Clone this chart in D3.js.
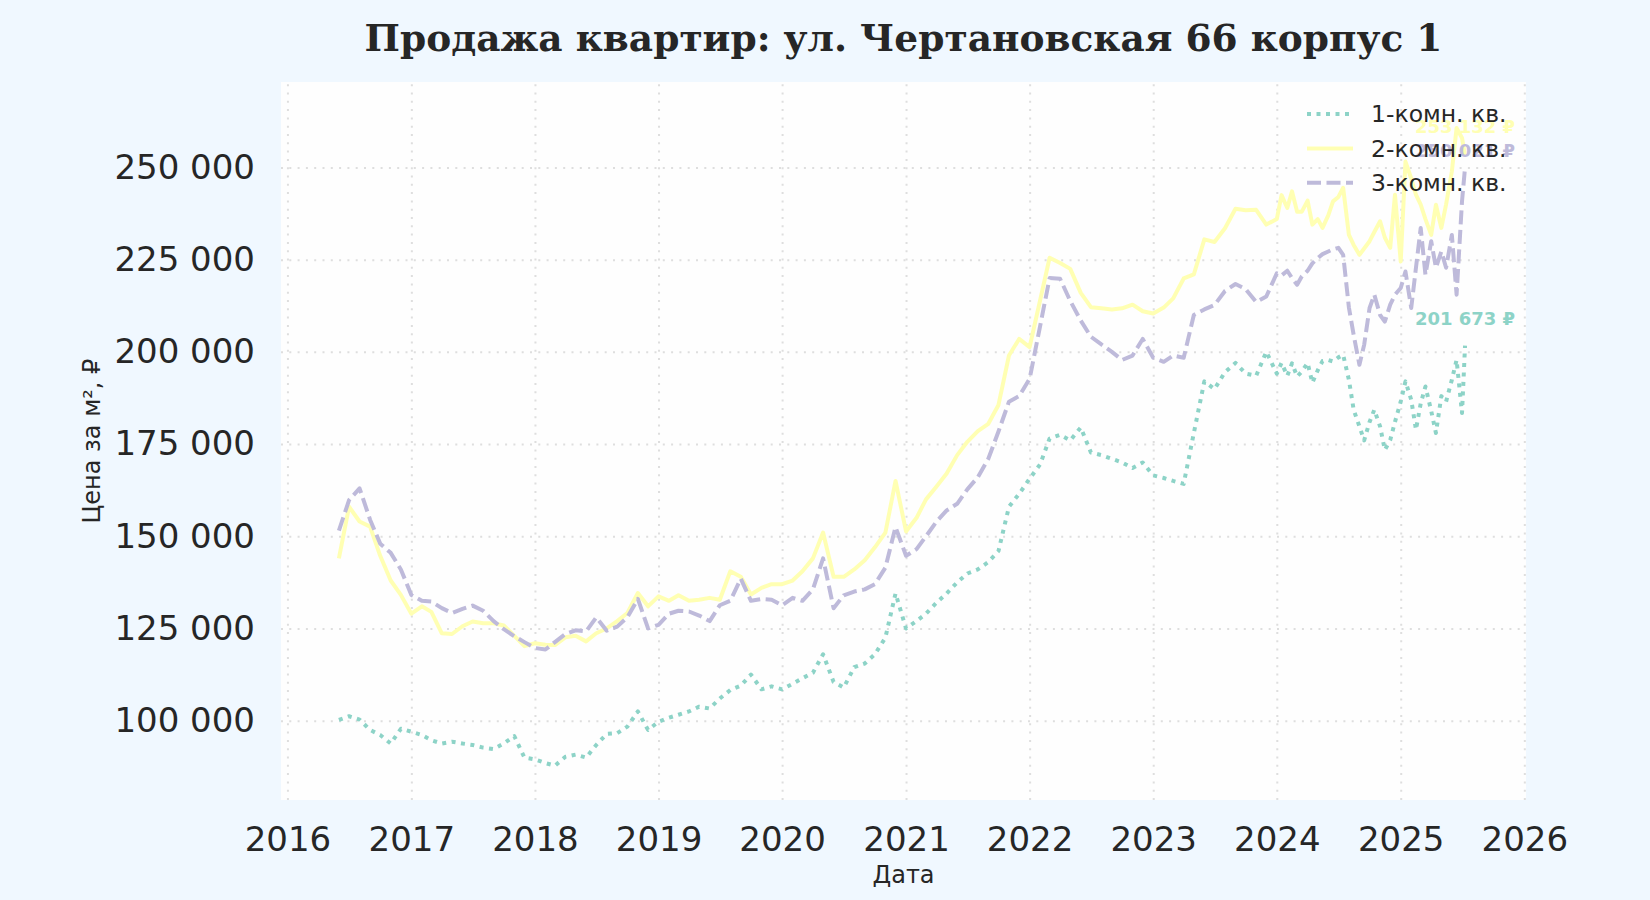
<!DOCTYPE html>
<html>
<head>
<meta charset="utf-8">
<script src="https://cdn.jsdelivr.net/npm/d3@7"></script>
<style>
  body { margin: 0; background: #f0f8ff; }
  svg { display: block; }
</style>
</head>
<body>
<div id="chart"></div>
<script>
// Dates: monthly to end of 2023, then twice a month
var dates = [
  "2016-06-01","2016-07-01","2016-08-01","2016-09-01","2016-10-01","2016-11-01","2016-12-01",
  "2017-01-01","2017-02-01","2017-03-01","2017-04-01","2017-05-01","2017-06-01","2017-07-01","2017-08-01","2017-09-01","2017-10-01","2017-11-01","2017-12-01",
  "2018-01-01","2018-02-01","2018-03-01","2018-04-01","2018-05-01","2018-06-01","2018-07-01","2018-08-01","2018-09-01","2018-10-01","2018-11-01","2018-12-01",
  "2019-01-01","2019-02-01","2019-03-01","2019-04-01","2019-05-01","2019-06-01","2019-07-01","2019-08-01","2019-09-01","2019-10-01","2019-11-01","2019-12-01",
  "2020-01-01","2020-02-01","2020-03-01","2020-04-01","2020-05-01","2020-06-01","2020-07-01","2020-08-01","2020-09-01","2020-10-01","2020-11-01","2020-12-01",
  "2021-01-01","2021-02-01","2021-03-01","2021-04-01","2021-05-01","2021-06-01","2021-07-01","2021-08-01","2021-09-01","2021-10-01","2021-11-01","2021-12-01",
  "2022-01-01","2022-02-01","2022-03-01","2022-04-01","2022-05-01","2022-06-01","2022-07-01","2022-08-01","2022-09-01","2022-10-01","2022-11-01","2022-12-01",
  "2023-01-01","2023-02-01","2023-03-01","2023-04-01","2023-05-01","2023-06-01","2023-07-01","2023-08-01","2023-09-01","2023-10-01","2023-11-01","2023-12-01",
  "2024-01-01","2024-01-15","2024-02-01","2024-02-15","2024-03-01","2024-03-15","2024-04-01","2024-04-15","2024-05-01","2024-05-15","2024-06-01","2024-06-15",
  "2024-07-01","2024-07-15","2024-08-01","2024-08-15","2024-09-01","2024-09-15","2024-10-01","2024-10-15","2024-11-01","2024-11-15","2024-12-01","2024-12-15",
  "2025-01-01","2025-01-15","2025-02-01","2025-02-15","2025-03-01","2025-03-15","2025-04-01","2025-04-15","2025-05-01","2025-05-15","2025-06-01","2025-06-15",
  "2025-07-01","2025-07-10"
];

var oneRoom = [
  100200, 101200, 100300, 97500, 96100, 93800, 97800,
  97000, 96100, 94700, 93800, 94300, 93800, 93400, 92700, 92300, 93800, 95800, 90000,
  89500, 88500, 87800, 90200, 90800, 90000, 93400, 96400, 96600, 98400, 102500, 97500,
  99700, 100800, 101600, 102500, 103800, 103300, 106000, 108300, 109500, 112500, 108500, 109300,
  108500, 110000, 111500, 113000, 118000, 110500, 109000, 114500, 115500, 118000, 122500, 134500,
  125000, 127000, 129000, 132000, 134500, 137500, 139900, 141000, 143000, 146000, 158000, 161500,
  165600, 169500, 176500, 177500, 176000, 179500, 172700, 172000, 171000, 170000, 168500, 170000,
  166500, 165800, 165000, 164200, 178000, 192000, 189900, 194500, 197000, 194100, 193500, 200000,
  194100, 197000, 193500, 196900, 193300, 194700, 197000, 191600, 195000, 197500, 197800, 197400,
  198500, 199200, 192400, 184300, 179800, 176000, 181000, 184300, 179800, 173400, 176100, 181000,
  186500, 192000, 187000, 178900, 186000, 190600, 184000, 178000, 188000, 186500, 192400, 197800,
  183400, 201673
];

var twoRoom = [
  144000, 158000, 154000, 152600, 144700, 138000, 134100,
  129000, 131000, 129500, 123700, 123500, 125600, 126900, 126400, 126400, 125800, 123000, 120200,
  121000, 120600, 120500, 122600, 123000, 121500, 123700, 125000, 127000, 129200, 134600, 131000,
  133700, 132500, 134000, 132500, 132800, 133300, 132800, 140500, 139000, 134200, 136000, 137000,
  137000, 138000, 140500, 144000, 151000, 139000, 139000, 141000, 143500, 147000, 151000, 165000,
  151300, 155000, 160000, 163500, 167000, 172000, 175600, 178500, 180500, 185600, 199000, 203500,
  201300, 214000, 225500, 224100, 222500, 216000, 212100, 211800, 211500, 211800, 212800, 211000,
  210400, 212000, 214500, 219900, 221000, 230500, 229800, 233500, 238800, 238400, 238500, 234500,
  236000, 242500, 239000, 243500, 238000, 238000, 241000, 234500, 236000, 233600, 237000, 240800,
  242000, 244500, 231700, 229000, 226300, 228000, 230000, 232500, 235400, 231000, 228200, 242600,
  224500, 251600, 247000, 242600, 239900, 236000, 231700, 239900, 233600, 240000, 248900, 260700,
  258000, 253132
];

var threeRoom = [
  151500, 159800, 163000, 154500, 148000, 145500, 141000,
  134100, 132500, 132300, 130500, 129200, 130300, 131200, 129800, 127000, 124800, 122900, 121300,
  119700, 119300, 121300, 123500, 124500, 124200, 128000, 124400, 125500, 128000, 133000, 125000,
  126000, 129000, 129800, 129600, 128500, 127000, 131300, 132500, 138500, 132500, 133000, 132800,
  131300, 133300, 132500, 135600, 144000, 130500, 134000, 135000, 135600, 137000, 141500, 152500,
  144700, 146500, 150000, 154000, 157000, 158800, 162700, 166000, 171000, 178400, 186500, 188000,
  192700, 207000, 220000, 219800, 213800, 208500, 204100, 202000, 200000, 197800, 199000, 203500,
  198400, 197300, 199000, 198400, 210000, 211500, 212700, 216500, 218400, 217000, 213500, 215000,
  221300, 220700, 222000, 220000, 218200, 220500, 222000, 224000, 225400, 226500, 227200, 227800,
  228200, 226300, 212000, 204600, 196500, 201900, 211900, 215500, 210000, 208200, 212800, 215500,
  217300, 221800, 211900, 222800, 233600, 220900, 230000, 222800, 227200, 222800, 231700, 215500,
  240800, 250021
];

var seriesNames = ["1-комн. кв.", "2-комн. кв.", "3-комн. кв."];
var yTicks = [100000, 125000, 150000, 175000, 200000, 225000, 250000];
var xTickYears = [2016, 2017, 2018, 2019, 2020, 2021, 2022, 2023, 2024, 2025, 2026];

var width = 1650;
var height = 900;
var margin = { top: 82, right: 124, bottom: 100, left: 281 };
var innerW = width - margin.left - margin.right;
var innerH = height - margin.top - margin.bottom;

var parseDate = d3.timeParse("%Y-%m-%d");
var dateValues = dates.map(parseDate);

var ru = d3.formatLocale({ decimal: ",", thousands: "\u00a0", grouping: [3], currency: ["", " ₽"] });
var fmt = ru.format(",d");

// line styles per series
var styles = [
  { color: "#8dd3c7", dash: "4 5.5", labelDy: -27 },
  { color: "#ffffb3", dash: null, labelDy: -29 },
  { color: "#bebada", dash: "14 5.5", labelDy: -17 }
];

var series = [oneRoom, twoRoom, threeRoom].map(function(vals, i) {
  return {
    name: seriesNames[i],
    style: styles[i],
    points: vals.map(function(v, j) { return { date: dateValues[j], value: v }; })
  };
});

var x = d3.scaleTime()
  .domain([new Date(2015, 11, 13), new Date(2026, 0, 6)])
  .range([0, innerW]);

var y = d3.scaleLinear()
  .domain([78490, 273165])
  .range([innerH, 0]);

var svg = d3.select("#chart")
  .append("svg")
  .attr("width", width)
  .attr("height", height)
  .style("background", "#f0f8ff")
  .style("font-family", "'DejaVu Sans', sans-serif");

// title
svg.append("text")
  .attr("x", margin.left + innerW / 2)
  .attr("y", 51)
  .attr("text-anchor", "middle")
  .style("font-family", "'DejaVu Serif', serif")
  .style("font-weight", "bold")
  .style("font-size", "37.5px")
  .style("fill", "#262626")
  .text("Продажа квартир: ул. Чертановская 66 корпус 1");

var g = svg.append("g")
  .attr("transform", "translate(" + margin.left + "," + margin.top + ")");

g.append("rect")
  .attr("width", innerW)
  .attr("height", innerH)
  .attr("fill", "#fefefe");

// grid
var xTickDates = xTickYears.map(function(yr) { return new Date(yr, 0, 1); });

g.append("g")
  .attr("class", "grid")
  .attr("transform", "translate(0," + innerH + ")")
  .call(d3.axisBottom(x).tickValues(xTickDates).tickSize(-innerH).tickFormat(""));

g.append("g")
  .attr("class", "grid")
  .call(d3.axisLeft(y).tickValues(yTicks).tickSize(-innerW).tickFormat(""));

g.selectAll(".grid .domain").remove();
g.selectAll(".grid line")
  .attr("stroke", "#dedede")
  .attr("stroke-width", 2)
  .attr("stroke-dasharray", "2 6.3");

// axes
var xAxis = g.append("g")
  .attr("transform", "translate(0," + innerH + ")")
  .call(d3.axisBottom(x).tickValues(xTickDates).tickSize(0).tickPadding(27)
    .tickFormat(d3.timeFormat("%Y")));

var yAxis = g.append("g")
  .call(d3.axisLeft(y).tickValues(yTicks).tickSize(0).tickPadding(26)
    .tickFormat(function(d) { return fmt(d); }));

[xAxis, yAxis].forEach(function(ax) {
  ax.select(".domain").remove();
  ax.selectAll("text")
    .style("font-family", "'DejaVu Sans', sans-serif")
    .style("font-size", "34px")
    .style("fill", "#262626");
});

// lines
var line = d3.line()
  .x(function(d) { return x(d.date); })
  .y(function(d) { return y(d.value); });

g.selectAll(".series")
  .data(series)
  .enter()
  .append("path")
  .attr("class", "series")
  .attr("d", function(d) { return line(d.points); })
  .attr("fill", "none")
  .attr("stroke", function(d) { return d.style.color; })
  .attr("stroke-width", 4)
  .attr("stroke-linejoin", "round")
  .attr("stroke-dasharray", function(d) { return d.style.dash; });

// last value labels
g.selectAll(".last-label")
  .data(series)
  .enter()
  .append("text")
  .attr("class", "last-label")
  .attr("x", function(d) { return x(d.points[d.points.length - 1].date); })
  .attr("y", function(d) { return y(d.points[d.points.length - 1].value) + d.style.labelDy; })
  .attr("dy", "0.35em")
  .attr("text-anchor", "middle")
  .style("font-size", "18px")
  .style("font-weight", "bold")
  .style("fill", function(d) { return d.style.color; })
  .text(function(d) { return ru.format("$,d")(d.points[d.points.length - 1].value); });

// axis titles
svg.append("text")
  .attr("transform", "translate(92," + (margin.top + innerH / 2) + ") rotate(-90)")
  .attr("text-anchor", "middle")
  .attr("dy", "0.35em")
  .style("font-size", "24px")
  .style("fill", "#262626")
  .text("Цена за м², ₽");

svg.append("text")
  .attr("x", margin.left + innerW / 2)
  .attr("y", 883)
  .attr("text-anchor", "middle")
  .style("font-size", "24px")
  .style("fill", "#262626")
  .text("Дата");

// legend
var legend = svg.append("g")
  .attr("transform", "translate(1307,114)");

var item = legend.selectAll(".item")
  .data(series)
  .enter()
  .append("g")
  .attr("class", "item")
  .attr("transform", function(d, i) { return "translate(0," + (i * 34.4) + ")"; });

item.append("line")
  .attr("x1", 0)
  .attr("x2", 46)
  .attr("stroke", function(d) { return d.style.color; })
  .attr("stroke-width", 4)
  .attr("stroke-dasharray", function(d) { return d.style.dash; });

item.append("text")
  .attr("x", 64)
  .attr("dy", "0.35em")
  .style("font-size", "23.5px")
  .style("fill", "#262626")
  .text(function(d) { return d.name; });
</script>
</body>
</html>
